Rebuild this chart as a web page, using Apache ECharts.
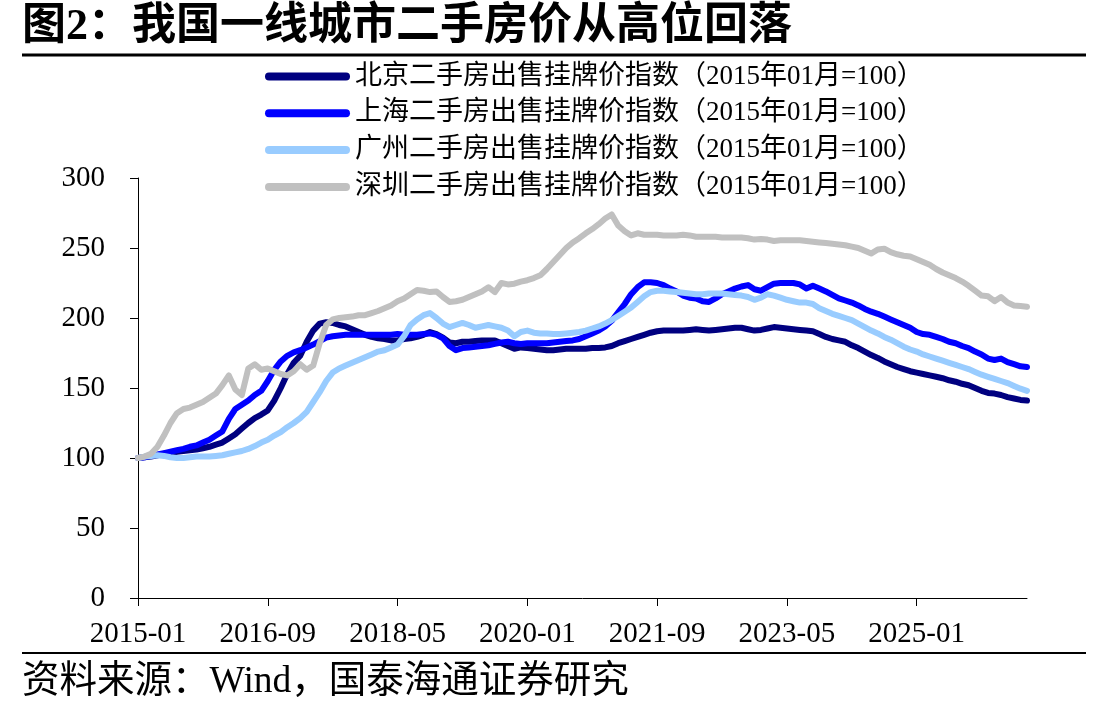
<!DOCTYPE html>
<html>
<head>
<meta charset="utf-8">
<script src="https://cdn.jsdelivr.net/npm/echarts@6/dist/echarts.min.js"></script>
<style>
html,body{margin:0;padding:0;background:#fff;}
#c{width:1108px;height:711px;}
</style>
</head>
<body>
<div id="c"></div>
<script>
// ---- data ----
const months = (function(){const a=[];for(let y=2015;y<=2026;y++){for(let m=1;m<=12;m++){a.push(y+'-'+(m<10?'0'+m:m));}}return a.slice(0,138);})();
const seriesNames = [
  '北京二手房出售挂牌价指数（2015年01月=100）',
  '上海二手房出售挂牌价指数（2015年01月=100）',
  '广州二手房出售挂牌价指数（2015年01月=100）',
  '深圳二手房出售挂牌价指数（2015年01月=100）'
];
const beijing = [100,100.5,101,102,103,103.5,104.5,105,105.5,106,107,108,109.5,111,114,117,121,125,128.5,131,134,141,150,160,168,173,183,191,196,197,196.5,195,194,192,190,188,186.5,185.5,185,184,184,185,185.5,186.5,188,190,188.5,186,182.5,182,183,183,183.5,184,184,184,182,180,178,179,178.5,178,177.5,177,177,177.5,178,178,178,178,178.5,178.5,179,180,182,183.5,185,186.5,188,189.5,190.5,191,191,191,191,191.5,192,191.5,191,191.5,192,192.5,193,193,192,191,191.5,192.5,193.5,193,192.5,192,191.5,191,190.5,188.5,186.5,185,184,183,180.5,178.5,176,173.5,171.5,169,167,165,163.5,162,161,160,159,158,157,155.5,154.5,153,152,150,148,146.5,146,145,143.5,142.5,141.5,141];
const shanghai = [100,100.5,101.5,102.5,103.5,104.5,105.5,106.5,108,109,111,113,116,119,128,135,138,141,145,148,155,163,169,173,175.5,177,179,181,183.5,186,187,187.5,188,188,188,188,188,188,188,188,188.5,188,188,188,188.5,189,188,185.5,180,177,178.5,179,179.5,180,180.5,181.5,182.5,183,182,181.5,182,182,182,182,182.5,183,183.5,184,185,187,189,191,194,198,204,210,217,222,225.5,225.5,225,223.5,221,219,216,214.5,214,212,211.5,214,217,219,221,222.5,223.5,220.5,219.5,222,224.5,225,225,225,224,221,223,221,219,216.5,214,212.5,211,209,206.5,204.5,203,201,199,197,195,193,190,188.5,188,186.5,185,183,182,180,178.5,176,174,171,170,171,168.5,167,165.5,165];
const guangzhou = [100,101,101.5,102,101.5,100.5,100,100,100.5,101,101,101,101.5,102,103,104,105,106.5,108.5,111,113,116,118.5,122,125,128.5,133,140,147,155,161,164,166,168,170,172,174,176,177,179,181,187,195,199,202,203.5,200,196,193.5,195,196.5,195,193,194,195,194,193,191,187,190,191,189.5,189,189,188.5,188.5,189,189.5,190,191,192.5,194,196,198.5,201.5,204.5,207.5,211.5,215.5,218.5,219.5,219.5,219,218.5,218,217.5,217,217,217.5,217.5,217.5,217,216.5,216,215,213,214.5,217,216,214.5,213,212,211,211,210,207,205,203,201.5,200,198.5,196,193.5,191,189,186.5,184.5,182,179.5,177.5,176,174,172.5,171,169.5,168,166.5,165,163.5,161.5,159.5,158,156.5,155,153.5,151.5,149.5,148];
const shenzhen = [100,101,103,108,116,125,132,135,136,138,140,143,146,152,159,149,145,164,167,163,164,162,160,159,162,167,163,166,182,195,199,200,200.5,201,202,202,203.5,205,207,209,212,214,217,220,219.5,218.5,219,215,211.5,212,213,215,217,219,222,218.5,225,224,224.5,226,227,228.5,230.5,235,240,245,250,254,257,260.5,263.5,267,271,274,266,262,259,260.5,259.5,259.5,259.5,259,259,259,259.5,259,258,258,258,258,257.5,257.5,257.5,257.5,257,256,256.5,256,255,255.5,255.5,255.5,255.5,255,254.5,254,253.5,253,252.5,252,251,250,248,246,249,249.5,247,245.5,244.5,244,242,240,238,235,232.5,230.5,228.5,226,223,219.5,216,215.5,212,215,211,209,208.5,208];
const yTicks = [0,50,100,150,200,250,300];
const colors = ['#000080','#0000FF','#99CCFF','#C0C0C0'];

const chart = echarts.init(document.getElementById('c'), null, {renderer:'canvas'});
const serifFont = '"Liberation Serif","Times New Roman","Noto Sans CJK SC",serif';
const pill = 'path://M4,0 L81,0 A4,4 0 0 1 81,8 L4,8 A4,4 0 0 1 4,0 Z';
const dataArr = [beijing, shanghai, guangzhou, shenzhen];

chart.setOption({
  animation:false,
  backgroundColor:'#fff',
  grid:{left:138, right:81, top:178, bottom:113, containLabel:false},
  legend:{
    orient:'vertical', left:265, top:63, padding:0, itemWidth:85, itemHeight:8, itemGap:9.8,
    data: seriesNames.map(n=>({name:n, icon:pill})),
    textStyle:{fontSize:27, fontFamily:serifFont, color:'#000', lineHeight:27}
  },
  xAxis:{
    type:'category', data:months, boundaryGap:false,
    axisLine:{lineStyle:{color:'#000',width:1}},
    axisTick:{show:true, interval:19, length:8, inside:false, lineStyle:{color:'#000'}},
    axisLabel:{interval:19, fontSize:29, fontFamily:serifFont, color:'#000', margin:22},
    splitLine:{show:false}
  },
  yAxis:{
    type:'value', min:yTicks[0], max:yTicks[yTicks.length-1], interval:50,
    axisLine:{show:true, lineStyle:{color:'#000',width:1}},
    axisTick:{show:true, length:8, inside:false, lineStyle:{color:'#000'}},
    axisLabel:{fontSize:29, fontFamily:serifFont, color:'#000', margin:33},
    splitLine:{show:false}
  },
  series: seriesNames.map((n,i)=>({
    name:n, type:'line', data:dataArr[i], showSymbol:false, symbol:'none', smooth:false,
    lineStyle:{color:colors[i], width:6, cap:'round', join:'round'},
    itemStyle:{color:colors[i]}
  })),
  graphic:[
    {type:'text', left:22, top:6, style:{text:'图2：我国一线城市二手房价从高位回落', fontSize:44, fontWeight:'bold', fontFamily:'"Liberation Serif","Noto Sans CJK SC",serif', fill:'#000'}},
    {type:'line', shape:{x1:22,y1:55,x2:1086,y2:55}, style:{stroke:'#000', lineWidth:3}},
    {type:'line', shape:{x1:22,y1:653,x2:1086,y2:653}, style:{stroke:'#000', lineWidth:2}},
    {type:'text', left:22, top:663, style:{text:'资料来源：Wind，国泰海通证券研究', fontSize:37.5, fontFamily:serifFont, fill:'#000'}}
  ]
});
</script>
</body>
</html>
